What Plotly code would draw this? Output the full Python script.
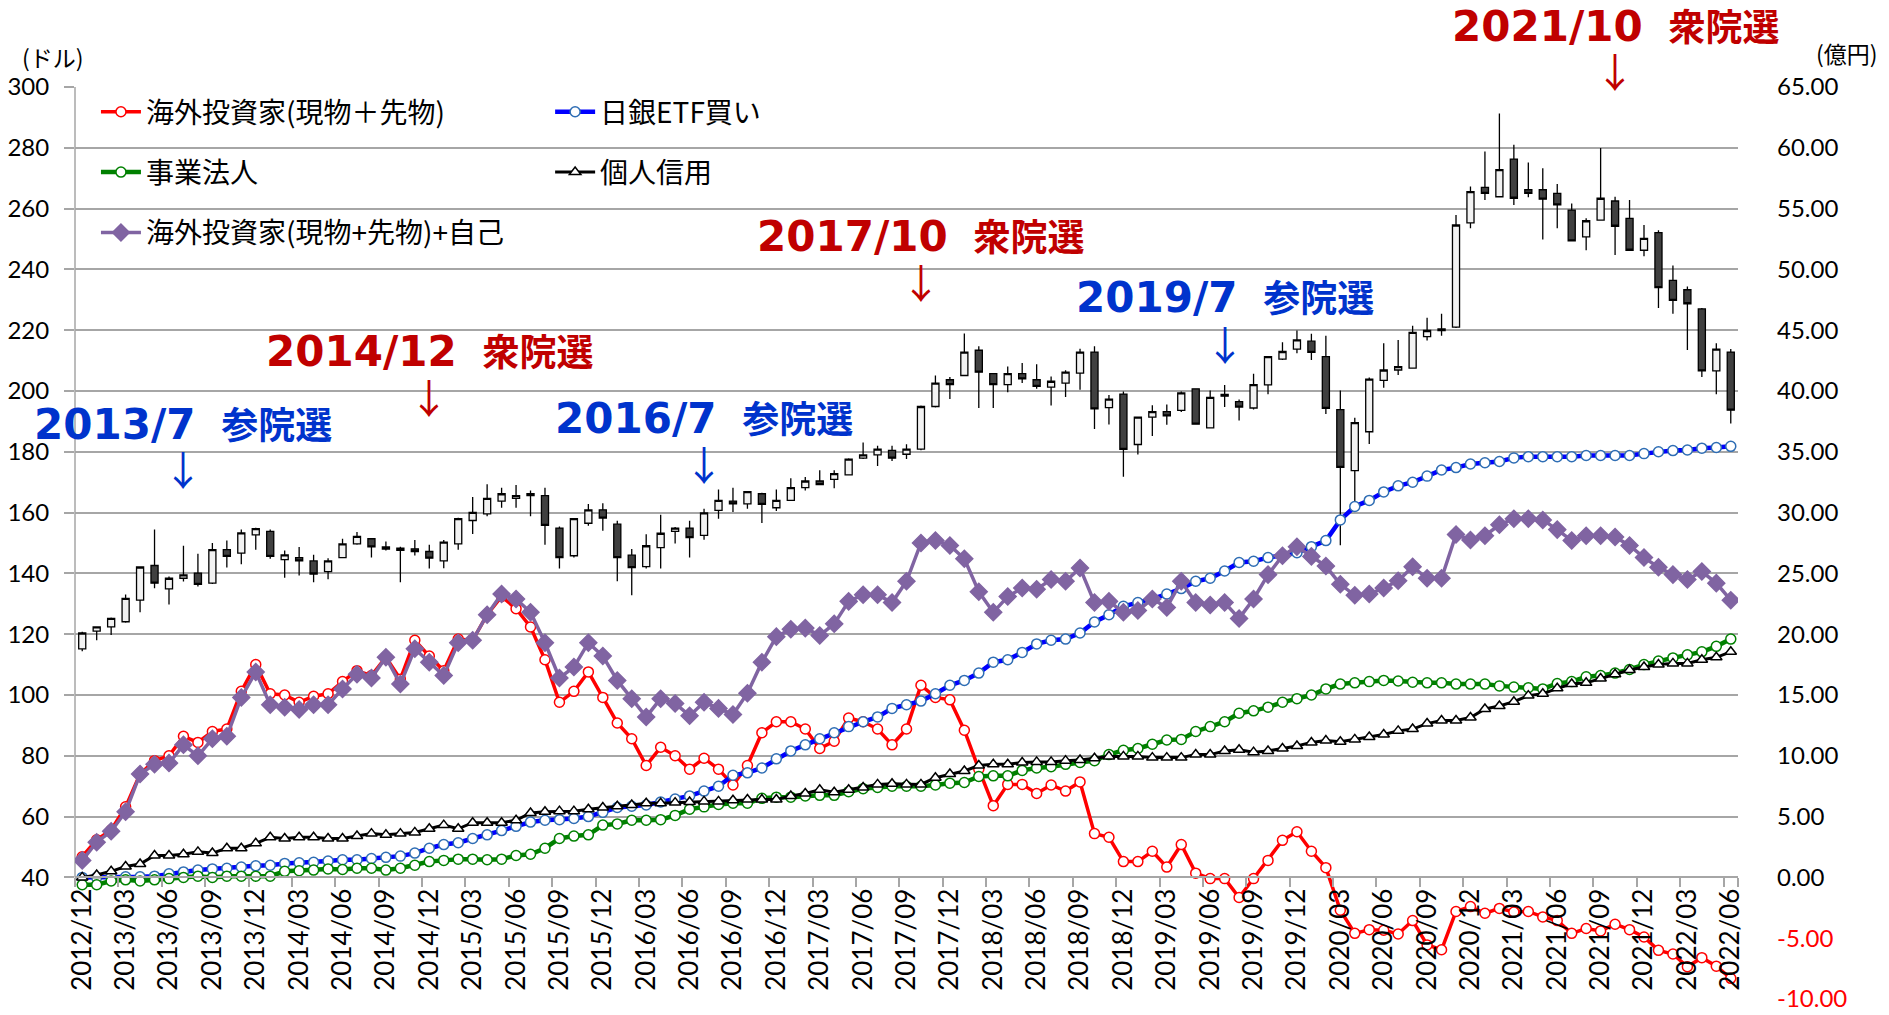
import plotly.graph_objects as go

# ---------------- categories ----------------
_all = [f"{y}/{m:02d}" for y in range(2012, 2023) for m in range(1, 13)]
months = _all[_all.index("2012/12"):_all.index("2022/06") + 1]
tick_labels = months[::3]

# ---------------- candlestick (left axis, USD) ----------------
candle_open = [115.2,121.0,122.4,124.1,131.2,142.6,134.9,138.4,140.1,136.8,
147.8,146.7,152.7,153.8,144.5,145.2,144.1,140.6,145.2,149.7,
151.4,148.7,148.3,148.1,147.2,144.1,149.7,157.4,159.6,163.8,
164.7,166.2,165.6,154.9,145.8,156.5,160.9,156.2,146.0,142.2,
148.5,153.8,154.9,152.5,160.7,163.8,162.9,166.2,161.6,164.0,
168.2,170.4,170.9,172.4,177.9,179.0,180.5,179.2,180.9,194.9,
203.7,205.1,213.4,205.7,202.1,205.7,203.7,201.3,202.6,205.9,
212.8,194.5,199.0,182.4,191.4,193.2,193.6,200.7,187.9,198.9,
196.5,194.4,202.0,210.5,213.8,216.4,211.3,193.9,173.8,186.6,
203.5,206.9,207.5,217.9,220.4,221.0,255.3,267.0,263.9,276.3,
266.2,266.2,265.0,259.5,250.7,256.2,262.5,256.8,246.3,252.1,
236.4,233.3,227.0,206.6,212.8]
candle_high = [120.8,122.6,125.5,133.1,142.3,154.4,139.0,149.1,146.5,150.0,
150.8,154.4,155.0,154.4,147.5,148.7,146.1,145.0,151.4,153.6,
151.6,150.5,148.8,151.0,149.4,151.0,158.3,165.1,169.3,168.2,
169.1,167.3,168.2,155.4,158.2,162.8,163.1,157.3,148.0,152.9,
159.3,155.3,157.3,161.3,167.6,168.2,166.9,166.5,167.6,171.3,
171.7,173.9,173.9,177.9,183.1,182.0,182.0,182.5,195.2,205.1,
204.6,218.9,214.7,205.9,208.1,209.2,208.8,204.8,206.8,213.9,
214.7,198.7,199.8,191.5,195.3,195.6,199.8,200.8,200.2,202.0,
197.2,205.7,211.3,216.0,219.9,218.8,218.2,200.2,191.2,204.4,
215.7,216.8,221.5,224.1,225.4,257.9,267.3,278.8,291.3,281.0,
275.2,273.3,268.1,261.7,256.8,279.9,263.9,262.8,254.6,252.9,
241.3,234.4,227.3,215.7,213.8]
candle_low = [114.4,118.0,119.7,123.8,127.2,135.1,129.8,137.3,135.7,136.5,
141.9,143.0,147.8,144.8,138.6,139.3,137.1,138.1,145.0,149.4,
145.2,147.5,137.1,145.9,141.6,141.7,147.8,153.0,158.8,161.6,
161.6,158.8,149.4,141.6,145.2,155.7,154.0,137.4,132.8,141.6,
141.6,149.8,145.2,151.1,158.0,160.2,161.3,156.6,160.5,163.8,
167.3,169.0,168.0,172.2,177.6,175.3,177.0,177.6,180.5,194.6,
197.4,205.0,194.4,194.4,199.6,202.6,200.7,195.2,198.0,200.4,
187.5,189.0,171.8,179.1,185.2,188.9,193.1,189.0,187.8,194.7,
190.3,193.9,198.9,210.2,212.4,210.2,192.4,149.3,161.0,182.6,
201.1,205.3,207.4,216.6,218.2,220.7,253.5,262.8,263.8,261.2,
263.7,249.8,253.5,249.3,246.3,256.1,244.7,246.1,244.3,227.3,
225.4,213.5,204.6,198.9,189.3]
candle_close = [120.4,122.4,125.2,131.8,142.1,136.8,138.4,139.5,136.4,147.8,
145.6,153.3,154.7,145.6,146.1,144.1,139.8,144.1,149.7,152.2,
148.7,148.0,147.6,147.2,145.0,150.3,158.0,160.1,164.7,166.2,
165.6,165.6,155.8,145.2,158.0,160.9,158.2,145.2,141.9,149.1,
153.2,154.9,151.8,159.9,164.0,162.9,166.9,162.7,164.0,168.2,
170.4,169.2,172.8,177.6,179.0,180.9,177.9,180.9,194.9,202.6,
202.1,212.8,206.2,202.1,205.7,204.0,201.5,203.2,206.2,212.8,
194.1,197.3,180.8,191.4,193.2,191.8,199.4,189.1,197.9,198.3,
194.7,202.1,211.3,213.0,216.8,212.7,194.3,174.9,189.6,203.9,
206.9,208.0,219.3,219.9,219.9,254.6,265.6,265.0,272.8,263.4,
265.0,263.1,261.2,249.4,256.0,263.4,254.2,246.3,250.2,234.0,
229.8,228.7,206.6,213.8,193.7]

# ---------------- line series (right axis) ----------------
foreign = [1.7,3.1,3.9,5.8,8.5,9.6,10.0,11.6,11.1,12.0,
12.2,15.3,17.5,15.1,15.0,14.4,14.9,15.1,16.1,17.0,
16.6,18.1,16.3,19.5,18.2,17.0,19.6,19.5,21.6,23.1,
22.1,20.6,17.9,14.4,15.3,16.9,14.8,12.7,11.4,9.2,
10.7,10.0,8.9,9.8,8.9,7.6,9.2,11.9,12.8,12.8,
12.2,10.6,11.2,13.1,12.8,12.2,10.9,12.2,15.8,14.8,
14.6,12.1,8.9,5.9,7.65,7.65,6.9,7.6,7.1,7.85,
3.6,3.3,1.3,1.3,2.15,0.85,2.7,0.35,-0.1,-0.1,
-1.65,-0.1,1.4,3.05,3.75,2.15,0.8,-2.7,-4.6,-4.3,
-4.35,-4.65,-3.55,-5.55,-5.95,-2.8,-2.4,-2.95,-2.55,-2.85,
-2.8,-3.25,-3.55,-4.6,-4.2,-4.4,-3.85,-4.3,-4.9,-6.0,
-6.3,-7.35,-6.6,-7.3,-8.3]
boj_etf = [0.0,0.0,0.05,0.05,0.05,0.1,0.3,0.45,0.6,0.7,
0.75,0.85,0.95,1.0,1.15,1.2,1.25,1.35,1.45,1.45,
1.55,1.65,1.75,2.0,2.4,2.7,2.85,3.2,3.5,3.85,
4.2,4.55,4.7,4.75,4.85,5.0,5.35,5.75,5.85,5.95,
6.2,6.45,6.7,7.1,7.5,8.4,8.6,9.0,9.75,10.4,
10.9,11.4,11.9,12.4,12.8,13.2,13.9,14.2,14.5,15.1,
15.8,16.2,16.8,17.7,17.9,18.5,19.2,19.5,19.6,20.1,
21.0,21.6,22.3,22.6,22.9,23.3,23.75,24.35,24.6,25.2,
25.9,26.0,26.3,26.5,26.7,27.2,27.7,29.4,30.5,31.0,
31.7,32.2,32.5,33.0,33.5,33.7,34.0,34.1,34.2,34.5,
34.6,34.6,34.6,34.6,34.7,34.7,34.7,34.7,34.85,35.0,
35.1,35.15,35.3,35.35,35.45]
corporate = [-0.6,-0.6,-0.3,-0.2,-0.3,-0.2,-0.1,0.0,0.1,0.0,
0.1,0.1,0.1,0.1,0.5,0.55,0.6,0.7,0.65,0.75,
0.75,0.6,0.75,1.0,1.3,1.4,1.5,1.5,1.45,1.5,
1.8,1.9,2.4,3.2,3.4,3.5,4.3,4.4,4.7,4.7,
4.75,5.1,5.6,5.8,6.0,6.1,6.1,6.5,6.6,6.6,
6.7,6.75,6.75,7.05,7.3,7.4,7.5,7.5,7.5,7.6,
7.75,7.8,8.3,8.35,8.35,8.8,9.0,9.1,9.3,9.45,
9.6,10.1,10.45,10.6,10.95,11.3,11.35,12.0,12.4,12.8,
13.5,13.7,14.0,14.4,14.7,15.0,15.5,15.9,16.0,16.1,
16.2,16.15,16.05,16.0,16.0,15.9,15.9,15.9,15.75,15.65,
15.6,15.5,15.95,16.1,16.5,16.6,16.8,17.1,17.5,17.8,
18.05,18.3,18.55,19.0,19.6]
margin_retail = [0.0,0.2,0.5,0.9,1.1,1.8,1.8,1.9,2.1,2.0,
2.4,2.4,2.8,3.3,3.2,3.3,3.3,3.2,3.2,3.4,
3.6,3.5,3.6,3.7,4.0,4.3,4.0,4.5,4.5,4.5,
4.7,5.3,5.4,5.45,5.45,5.6,5.75,5.85,5.95,6.1,
6.1,6.15,6.2,6.25,6.25,6.35,6.4,6.4,6.4,6.7,
6.9,7.2,7.0,7.2,7.4,7.65,7.7,7.65,7.65,8.2,
8.5,8.75,9.2,9.3,9.3,9.45,9.5,9.5,9.6,9.65,
9.8,9.95,9.95,9.95,9.85,9.85,9.85,10.1,10.1,10.4,
10.5,10.3,10.4,10.6,10.8,11.1,11.25,11.15,11.35,11.55,
11.75,12.05,12.2,12.65,12.9,12.9,13.15,13.85,14.1,14.45,
14.95,15.1,15.55,15.9,16.0,16.35,16.7,17.05,17.3,17.5,
17.6,17.6,17.9,18.1,18.55]
foreign_plus_dealer = [1.4,2.9,3.8,5.4,8.5,9.3,9.4,10.9,10.0,11.4,
11.6,14.8,16.9,14.2,14.0,13.8,14.2,14.2,15.5,16.7,
16.4,18.1,15.9,18.8,17.7,16.6,19.3,19.5,21.6,23.3,
22.9,21.8,19.3,16.4,17.3,19.3,18.2,16.2,14.7,13.2,
14.7,14.3,13.3,14.4,13.9,13.4,15.15,17.7,19.8,20.4,
20.5,19.9,20.85,22.7,23.25,23.25,22.6,24.35,27.5,27.7,
27.3,26.2,23.5,21.8,23.1,23.8,23.7,24.5,24.35,25.45,
22.6,22.7,21.8,21.95,22.9,22.2,24.35,22.6,22.4,22.6,
21.3,22.9,24.9,26.45,27.2,26.4,25.6,24.1,23.2,23.3,
23.8,24.4,25.55,24.6,24.6,28.2,27.75,28.1,29.0,29.5,
29.5,29.4,28.6,27.7,28.1,28.1,28.0,27.3,26.3,25.5,
24.9,24.5,25.15,24.2,22.8]

left_ticks = [40, 60, 80, 100, 120, 140, 160, 180, 200, 220, 240, 260, 280, 300]
right_ticks = [-10, -5, 0, 5, 10, 15, 20, 25, 30, 35, 40, 45, 50, 55, 60, 65]

# election labels: (category, year/month, name, colour, text level, arrow level) in left-axis units
BLUE = "#0033CC"
RED = "#C00000"
elections = [
    ("2013/07", "2013/7", "参院選", BLUE, 189.1, 174.8),
    ("2014/12", "2014/12", "衆院選", RED, 212.9, 198.5),
    ("2016/07", "2016/7", "参院選", BLUE, 190.8, 176.4),
    ("2017/10", "2017/10", "衆院選", RED, 250.7, 236.2),
    ("2019/07", "2019/7", "参院選", BLUE, 230.7, 215.9),
    ("2021/10", "2021/10", "衆院選", RED, 320.0, 305.5),
]
LEFT_MAX = 300.0

JP = "Noto Sans CJK JP"
NUM = "Lato"

fig = go.Figure()

fig.add_trace(go.Candlestick(
    x=months, open=candle_open, high=candle_high, low=candle_low, close=candle_close,
    increasing=dict(line=dict(color="black", width=1.3), fillcolor="#F2F2F2"),
    decreasing=dict(line=dict(color="black", width=1.3), fillcolor="#404040"),
    whiskerwidth=0, showlegend=False, hoverinfo="skip", yaxis="y", xaxis="x"))


def add_line(name, vals, color, lw, sym, size, fill, mline, legend):
    fig.add_trace(go.Scatter(
        x=months, y=vals, name=name, yaxis="y2", xaxis="x", mode="lines+markers",
        line=dict(color=color, width=lw),
        marker=dict(symbol=sym, size=size, color=fill, line=dict(color=mline, width=1.5)),
        legend=legend, legendgroup=name))


add_line("海外投資家(現物＋先物)", foreign, "#FF0000", 3.5, "circle", 10, "white", "#FF0000", "legend")
add_line("日銀ETF買い", boj_etf, "#0000FF", 4.5, "circle", 10, "white", "#2E6DB4", "legend2")
add_line("事業法人", corporate, "#008000", 4.5, "circle", 10, "white", "#008000", "legend")
add_line("個人信用", margin_retail, "black", 3, "triangle-up", 10, "white", "black", "legend2")
add_line("海外投資家(現物+先物)+自己", foreign_plus_dealer, "#8064A2", 3.5, "diamond", 13,
         "#8064A2", "#8064A2", "legend")

annotations = []
for cat, num, kanji, col, ty, ay in elections:
    annotations.append(dict(
        x=cat, y=ty / LEFT_MAX, xref="x", yref="paper",
        text=f"<b><span style='font-size:42px'>{num}</span>  {kanji}</b>",
        showarrow=False, font=dict(family="DejaVu Sans, " + JP, size=37, color=col),
        xanchor="center", yanchor="middle"))
    annotations.append(dict(
        x=cat, y=ay / LEFT_MAX, xref="x", yref="paper", text="↓",
        showarrow=False, font=dict(family=JP, size=40, color=col),
        xanchor="center", yanchor="middle"))

# plot area in page pixels: x 75..1738, y 87..999
annotations.append(dict(x=-0.0132, y=1.033, xref="paper", yref="paper", text="(ドル)",
                        showarrow=False, font=dict(family=JP, size=23, color="black"),
                        xanchor="center", yanchor="middle"))
annotations.append(dict(x=1.0655, y=1.0373, xref="paper", yref="paper", text="(億円)",
                        showarrow=False, font=dict(family=JP, size=23, color="black"),
                        xanchor="center", yanchor="middle"))

right_text = []
for v in right_ticks:
    s = f"{v:.2f}"
    right_text.append(f"<span style='color:#FF0000'>{s}</span>" if v < 0 else s)

legend_common = dict(y=1.0, xanchor="left", yanchor="top", bgcolor="rgba(0,0,0,0)",
                     font=dict(family=JP, size=28, color="black"), tracegroupgap=21,
                     itemwidth=40, traceorder="grouped")

fig.update_layout(
    width=1889, height=1015,
    margin=dict(l=75, r=151, t=87, b=16, autoexpand=False),
    paper_bgcolor="white", plot_bgcolor="white",
    font=dict(family=NUM, color="black"),
    annotations=annotations,
    shapes=[dict(type="line", xref="paper", x0=0, x1=0, yref="y", y0=40, y1=300,
                 line=dict(color="#A6A6A6", width=1.5), layer="below")],
    xaxis=dict(type="category", categoryorder="array", categoryarray=months,
               range=[-0.5, len(months) - 0.5], automargin=False,
               tickmode="array", tickvals=tick_labels, ticktext=tick_labels,
               tickangle=-90, tickson="boundaries", ticks="outside", ticklen=9,
               tickcolor="#A6A6A6", tickwidth=1.5, showgrid=False,
               showline=True, linecolor="#A6A6A6", linewidth=1.5,
               anchor="free", position=10 / 75,
               tickfont=dict(family=NUM, size=26, color="black"),
               rangeslider=dict(visible=False)),
    yaxis=dict(range=[0, 300], tickmode="array", tickvals=left_ticks, automargin=False,
               showgrid=True, gridcolor="#A6A6A6", gridwidth=1.5,
               ticks="outside", ticklen=10, tickcolor="#A6A6A6", tickwidth=1.5,
               showline=False, zeroline=False, ticklabelstandoff=10,
               tickfont=dict(family=NUM, size=24, color="black")),
    yaxis2=dict(range=[-10, 65], overlaying="y", side="right", anchor="x", automargin=False,
                tickmode="array", tickvals=right_ticks, ticktext=right_text,
                showgrid=False, zeroline=False, showline=False, ticks="",
                ticklabelstandoff=38, ticklabeloverflow="allow",
                tickfont=dict(family=NUM, size=24, color="black")),
    legend=dict(x=0.0126, **legend_common),
    legend2=dict(x=0.2857, **legend_common),
    showlegend=True,
)

fig.write_html("out.html", config={"displayModeBar": False},
               post_script="document.body.style.margin='0';document.body.style.overflow='hidden';")
